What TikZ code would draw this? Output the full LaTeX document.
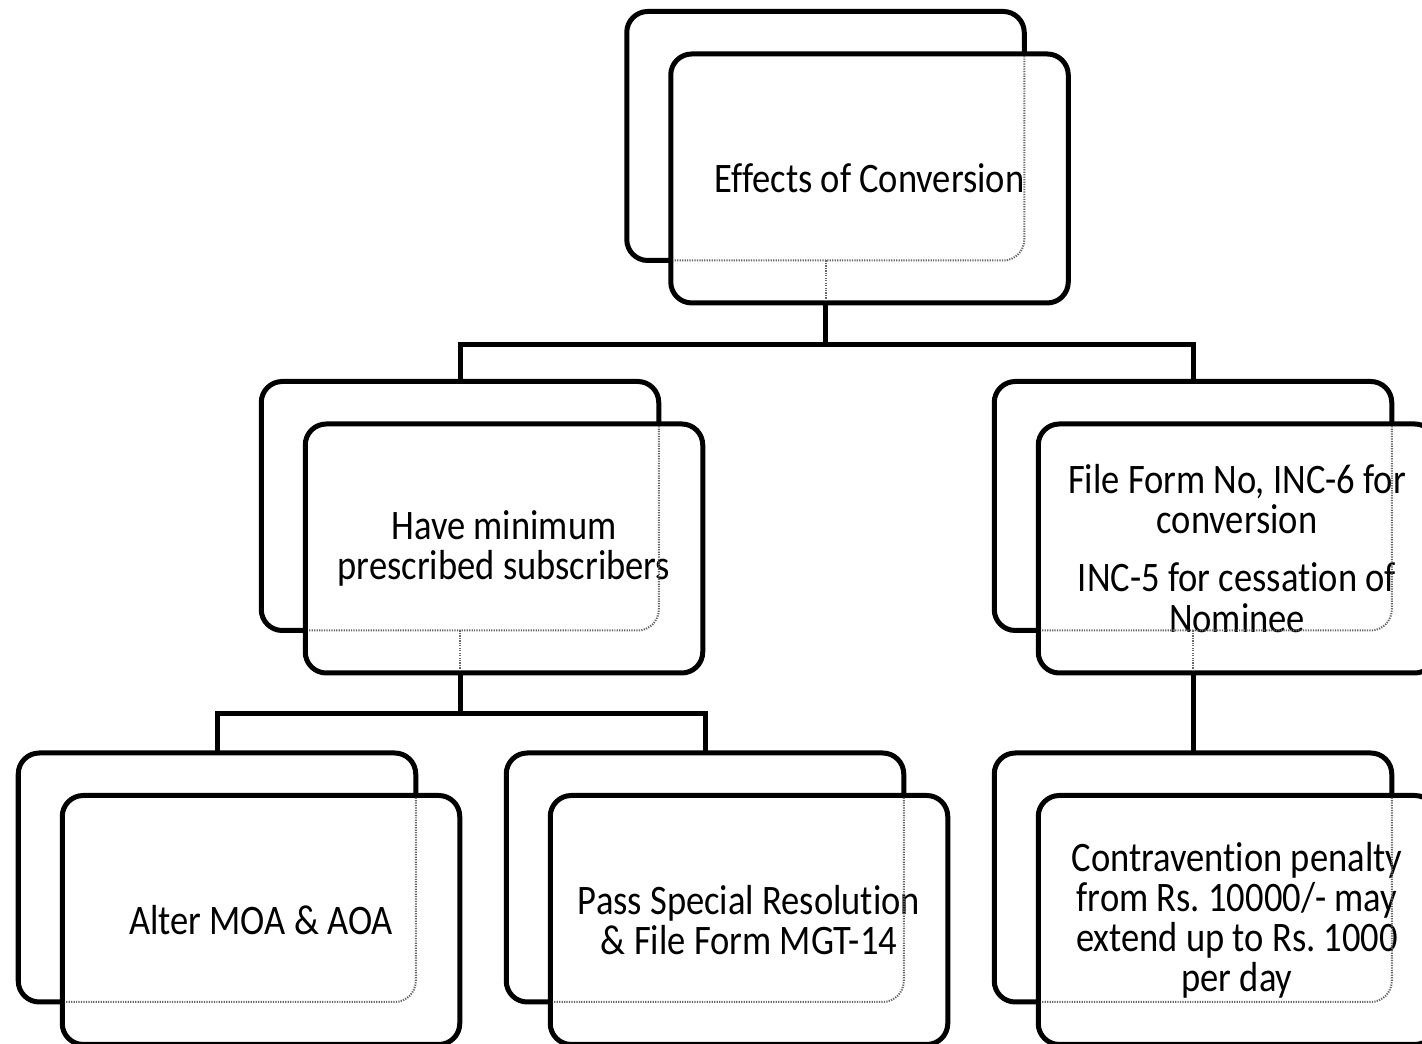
\documentclass[tikz,border=0pt]{standalone}
\usepackage{fontspec}
\setmainfont[FakeStretch=0.87,Ligatures=NoCommon]{Carlito}
\usetikzlibrary{positioning,calc}
\frenchspacing

\begin{document}
\begin{tikzpicture}[
  back/.style={draw,fill=white,rounded corners=0.42cm,line width=0.1cm,outer sep=0pt,
               minimum width=7.95cm,minimum height=4.98cm},
  card/.style={back,align=center,font=\fontsize{23.9}{22.8}\selectfont},
  hidden/.style={draw=gray!80!black,line width=0.04cm,dash pattern=on 0.7pt off 0.7pt,
                 rounded corners=0.42cm},
  link/.style={line width=0.1cm}]
\useasboundingbox (0,0) rectangle (28.44,20.88);
% back cards
\node[back] (effB) at (16.51,18.16) {};
\node[back] (minB) at (9.20,10.76) {};
\node[back] (incB) at (23.86,10.76) {};
\node[back] (moaB) at (4.34,3.33) {};
\node[back] (resB) at (14.10,3.33) {};
\node[back] (penB) at (23.86,3.33) {};
% front cards
\node[card] (eff) at ($(effB)+(0.88,-0.85)$) {Effects of Conversion};
\node[card] (min) at ($(minB)+(0.88,-0.85)$) {Have minimum\\prescribed subscribers};
\node[card] (inc) at ($(incB)+(0.88,-0.85)$) {File Form No, INC-6 for\\conversion\\[0.36cm]INC-5 for cessation of\\Nominee};
\node[card] (moa) at ($(moaB)+(0.88,-0.85)$) {Alter MOA \& AOA};
\node[card] (res) at ($(resB)+(0.88,-0.85)$) {Pass Special Resolution\\\& File Form MGT-14};
\node[card] (pen) at ($(penB)+(0.88,-0.85)$) {Contravention penalty\\from Rs. 10000/- may\\extend up to Rs. 1000\\per day};
% hidden edges seen through the front cards
\begin{scope}
  \clip ($(eff.south west)+(0.05,0.05)$) rectangle ($(eff.north east)-(0.05,0.05)$);
  \draw[hidden] (effB.south west) rectangle (effB.north east);
  \draw[hidden] (effB.south) -- (effB.south |- eff.south);
\end{scope}
\begin{scope}
  \clip ($(min.south west)+(0.05,0.05)$) rectangle ($(min.north east)-(0.05,0.05)$);
  \draw[hidden] (minB.south west) rectangle (minB.north east);
  \draw[hidden] (minB.south) -- (minB.south |- min.south);
\end{scope}
\begin{scope}
  \clip ($(inc.south west)+(0.05,0.05)$) rectangle ($(inc.north east)-(0.05,0.05)$);
  \draw[hidden] (incB.south west) rectangle (incB.north east);
  \draw[hidden] (incB.south) -- (incB.south |- inc.south);
\end{scope}
\begin{scope}
  \clip ($(moa.south west)+(0.05,0.05)$) rectangle ($(moa.north east)-(0.05,0.05)$);
  \draw[hidden] (moaB.south west) rectangle (moaB.north east);
\end{scope}
\begin{scope}
  \clip ($(res.south west)+(0.05,0.05)$) rectangle ($(res.north east)-(0.05,0.05)$);
  \draw[hidden] (resB.south west) rectangle (resB.north east);
\end{scope}
\begin{scope}
  \clip ($(pen.south west)+(0.05,0.05)$) rectangle ($(pen.north east)-(0.05,0.05)$);
  \draw[hidden] (penB.south west) rectangle (penB.north east);
\end{scope}
% connectors
\draw[link] (effB.south |- eff.south) -- ++(0,-0.84) coordinate (split1);
\draw[link] (minB.north) |- (split1) -| (incB.north);
\draw[link] (minB.south |- min.south) -- ++(0,-0.82) coordinate (split2);
\draw[link] (moaB.north) |- (split2) -| (resB.north);
\draw[link] (incB.south |- inc.south) -- (penB.north);
\end{tikzpicture}
\end{document}
